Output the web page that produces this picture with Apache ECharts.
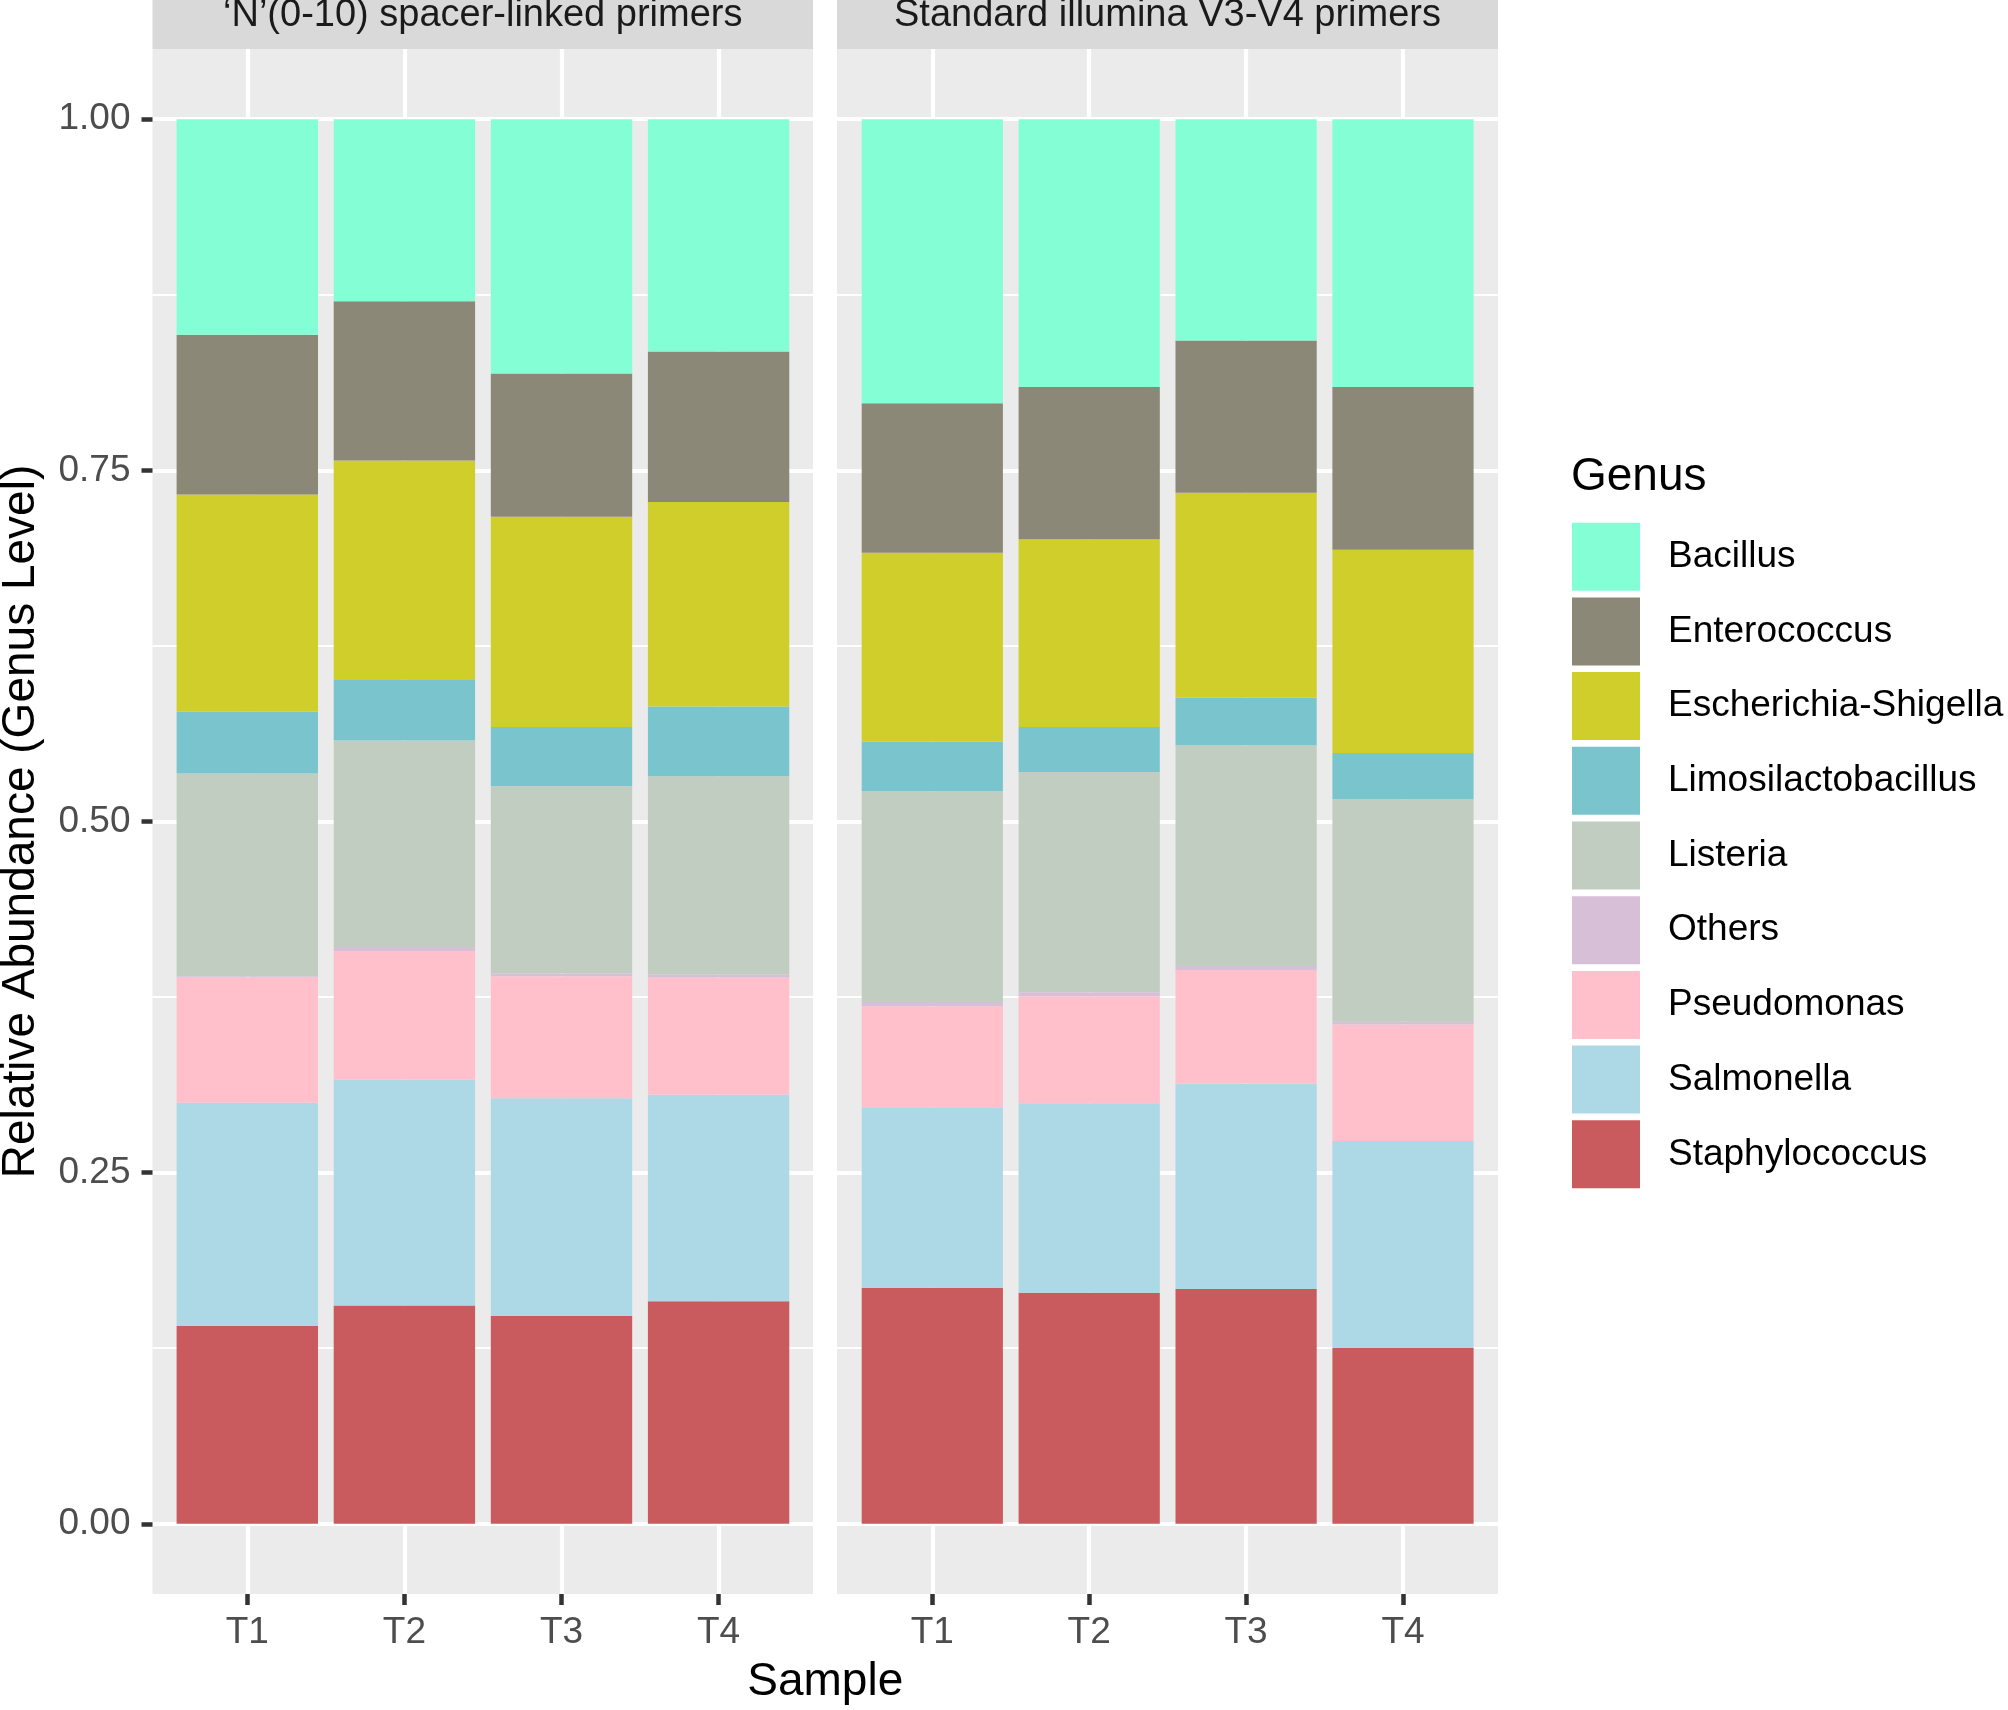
<!DOCTYPE html>
<html>
<head>
<meta charset="utf-8">
<script src="https://cdn.jsdelivr.net/npm/echarts@6/dist/echarts.min.js"></script>
<style>html,body{margin:0;padding:0;background:#fff}#chart{width:2008px;height:1710px}</style>
</head>
<body>
<div id="chart"></div>
<script>
// ---- data ----
const categories = ['T1', 'T2', 'T3', 'T4'];
const facets = ['\u2018N\u2019(0-10) spacer-linked primers', 'Standard illumina V3-V4 primers'];
const genera = ['Bacillus', 'Enterococcus', 'Escherichia-Shigella', 'Limosilactobacillus', 'Listeria', 'Others', 'Pseudomonas', 'Salmonella', 'Staphylococcus'];
const genusColors = ['#84FFD5', '#8B8878', '#CFCE2A', '#7AC5CD', '#C1CDC1', '#D8BFD8', '#FFC0CB', '#ADD8E6', '#C95B5E'];
const yTicks = [0, 0.25, 0.5, 0.75, 1];

// 'N'(0-10) spacer-linked primers, T1..T4
const spacerBacillus       = [0.1534, 0.1296, 0.1810, 0.1654];
const spacerEnterococcus   = [0.1137, 0.1133, 0.1020, 0.1072];
const spacerEscherichia    = [0.1548, 0.1559, 0.1497, 0.1456];
const spacerLimosilacto    = [0.0439, 0.0436, 0.0421, 0.0495];
const spacerListeria       = [0.1443, 0.1469, 0.1334, 0.1411];
const spacerOthers         = [0.0010, 0.0029, 0.0020, 0.0023];
const spacerPseudomonas    = [0.0892, 0.0916, 0.0869, 0.0834];
const spacerSalmonella     = [0.1588, 0.1608, 0.1550, 0.1471];
const spacerStaphylococcus = [0.1409, 0.1554, 0.1479, 0.1584];

// Standard illumina V3-V4 primers, T1..T4
const standardBacillus       = [0.2022, 0.1907, 0.1576, 0.1907];
const standardEnterococcus   = [0.1065, 0.1083, 0.1083, 0.1158];
const standardEscherichia    = [0.1344, 0.1337, 0.1460, 0.1448];
const standardLimosilacto    = [0.0354, 0.0321, 0.0339, 0.0329];
const standardListeria       = [0.1500, 0.1568, 0.1571, 0.1583];
const standardOthers         = [0.0030, 0.0029, 0.0029, 0.0020];
const standardPseudomonas    = [0.0720, 0.0761, 0.0809, 0.0829];
const standardSalmonella     = [0.1285, 0.1349, 0.1462, 0.1474];
const standardStaphylococcus = [0.1680, 0.1645, 0.1671, 0.1252];

const facetData = [
  [spacerBacillus, spacerEnterococcus, spacerEscherichia, spacerLimosilacto, spacerListeria, spacerOthers, spacerPseudomonas, spacerSalmonella, spacerStaphylococcus],
  [standardBacillus, standardEnterococcus, standardEscherichia, standardLimosilacto, standardListeria, standardOthers, standardPseudomonas, standardSalmonella, standardStaphylococcus]
];

// ---- layout ----
const FONT = '"Liberation Sans", Arial, Helvetica, sans-serif';
const panels = [
  { left: 152.5, width: 660.5, catLeft: 247.3, catWidth: 471.3 },
  { left: 837, width: 661, catLeft: 932.3, catWidth: 470.7 }
];
const panelTop = 49, panelBottom = 1594;
const y1px = 119.2, y0px = 1523.8;

const grid = [], xAxis = [], yAxis = [], series = [], graphic = [];

panels.forEach((p, f) => {
  grid.push({ left: p.left, top: y1px, width: p.width, height: y0px - y1px, outerBoundsMode: 'none' });
  grid.push({ left: p.catLeft, top: panelTop, width: p.catWidth, height: panelBottom - panelTop, outerBoundsMode: 'none' });
  const gH = 2 * f, gV = 2 * f + 1;
  xAxis.push({ gridIndex: gH, type: 'value', min: 0, max: 1, show: false });
  yAxis.push({
    gridIndex: gH, type: 'value', min: yTicks[0], max: yTicks[yTicks.length - 1], interval: 0.25,
    axisLine: { show: false, onZero: false },
    axisTick: { show: f === 0, length: 11, lineStyle: { color: '#333333', width: 4.5 } },
    axisLabel: { show: f === 0, fontSize: 37, color: '#4D4D4D', fontFamily: FONT, margin: 22, formatter: v => v.toFixed(2) },
    splitLine: { show: true, lineStyle: { color: '#FFFFFF', width: 4.2 } },
    minorTick: { show: false, splitNumber: 2 },
    minorSplitLine: { show: true, lineStyle: { color: '#FFFFFF', width: 2.2 } }
  });
  xAxis.push({
    gridIndex: gV, type: 'category', boundaryGap: false, data: categories, position: 'bottom',
    axisLine: { show: false, onZero: false },
    axisTick: { show: true, length: 11, interval: 0, lineStyle: { color: '#333333', width: 4.5 } },
    axisLabel: { fontSize: 37, color: '#4D4D4D', fontFamily: FONT, margin: 20, interval: 0 },
    splitLine: { show: true, interval: 0, lineStyle: { color: '#FFFFFF', width: 4.2 } }
  });
  yAxis.push({ gridIndex: gV, type: 'value', min: -0.05, max: 1.05, show: false, axisLine: { onZero: false } });

  for (let g = genera.length - 1; g >= 0; g--) {
    series.push({
      type: 'bar', name: genera[g], xAxisIndex: gV, yAxisIndex: gV,
      stack: 'facet' + f, barWidth: '90%', clip: false,
      itemStyle: { color: genusColors[g] },
      emphasis: { disabled: true },
      data: facetData[f][g]
    });
  }

  graphic.push({ type: 'rect', z: -5, silent: true, shape: { x: p.left, y: panelTop, width: p.width, height: panelBottom - panelTop }, style: { fill: '#EBEBEB' } });
  graphic.push({ type: 'rect', z: -5, silent: true, shape: { x: p.left, y: -30, width: p.width, height: panelTop + 30 }, style: { fill: '#D9D9D9' } });
  graphic.push({
    type: 'text', z: 5, silent: true, x: p.left + p.width / 2, y: 16,
    style: { text: facets[f], fontSize: 38, fontFamily: FONT, fill: '#1A1A1A', align: 'center', verticalAlign: 'middle', textAlign: 'center', textVerticalAlign: 'middle' }
  });
});

graphic.push({
  type: 'text', z: 5, silent: true, x: (panels[0].left + panels[1].left + panels[1].width) / 2, y: 1682,
  style: { text: 'Sample', fontSize: 46, fontFamily: FONT, fill: '#000', align: 'center', verticalAlign: 'middle', textAlign: 'center', textVerticalAlign: 'middle' }
});
graphic.push({
  type: 'text', z: 5, silent: true, x: 21, y: (panelTop + panelBottom) / 2, rotation: Math.PI / 2,
  style: { text: 'Relative Abundance (Genus Level)', fontSize: 46, fontFamily: FONT, fill: '#000', align: 'center', verticalAlign: 'middle', textAlign: 'center', textVerticalAlign: 'middle' }
});
graphic.push({
  type: 'text', z: 5, silent: true, x: 1571, y: 477,
  style: { text: 'Genus', fontSize: 46, fontFamily: FONT, fill: '#000', align: 'left', verticalAlign: 'middle', textAlign: 'left', textVerticalAlign: 'middle' }
});

const chart = echarts.init(document.getElementById('chart'), null, { renderer: 'canvas' });
chart.setOption({
  backgroundColor: '#FFFFFF',
  animation: false,
  textStyle: { fontFamily: FONT },
  grid, xAxis, yAxis, series, graphic,
  legend: {
    data: genera, orient: 'vertical', left: 1572, top: 522.7, padding: 0,
    itemWidth: 68, itemHeight: 68, itemGap: 6.7, icon: 'rect', selectedMode: false,
    textStyle: { fontSize: 37, color: '#000', fontFamily: FONT, padding: [0, 0, 0, 23] }
  }
});
</script>
</body>
</html>
